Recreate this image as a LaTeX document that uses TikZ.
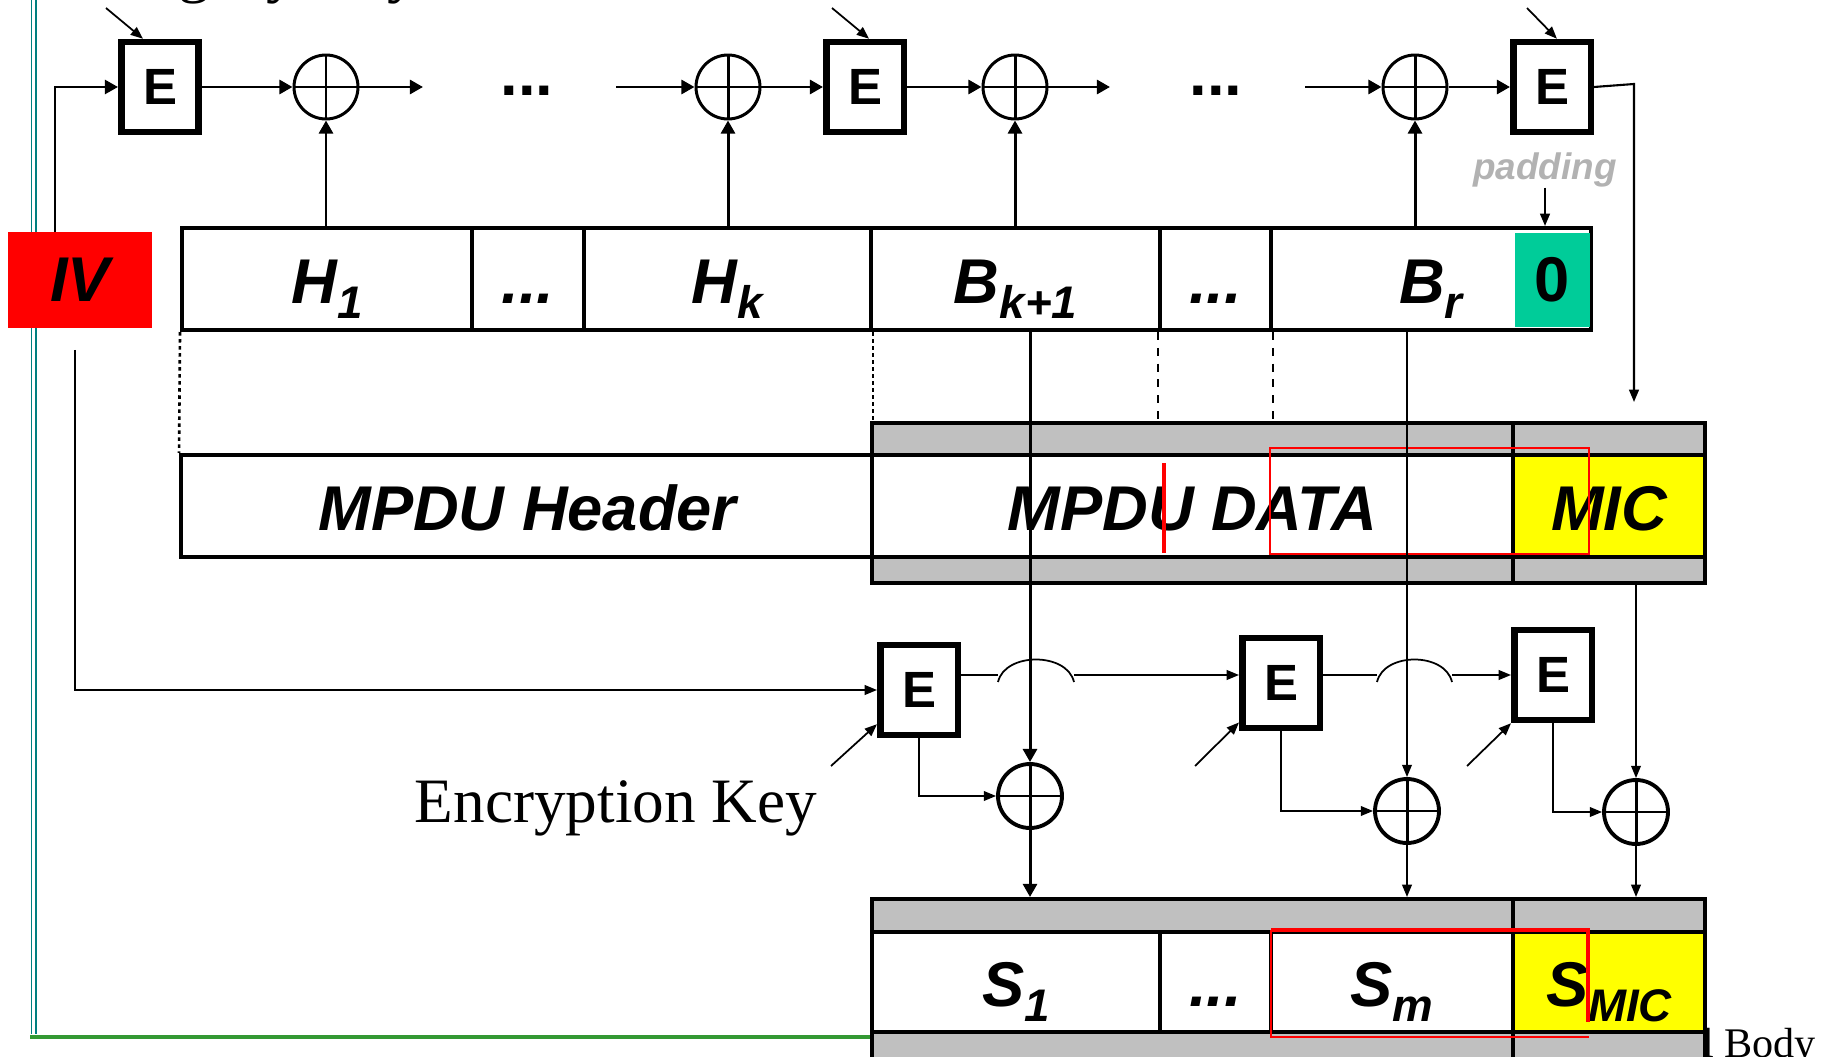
\documentclass[tikz,border=0pt]{standalone}
\usepackage{fontspec}
\setmainfont{Liberation Sans}
\newfontfamily\keyfont{Liberation Serif}
\usetikzlibrary{arrows.meta}
\definecolor{ivred}{RGB}{255,0,0}
\definecolor{padgreen}{RGB}{0,204,153}
\definecolor{micyellow}{RGB}{255,255,0}
\definecolor{bandgray}{RGB}{192,192,192}
\definecolor{padtext}{RGB}{178,178,178}
\definecolor{tealline}{RGB}{0,128,128}
\definecolor{greenline}{RGB}{51,153,51}
\newcommand{\lbl}{\fontsize{36}{40}\selectfont\bfseries\itshape}
\newcommand{\subl}[1]{\raisebox{-8.5pt}{\fontsize{26}{28}\selectfont #1}}
\tikzset{
  ebox/.style={rectangle, draw, line width=3.7pt, fill=white, minimum width=1.55cm,
               minimum height=1.8cm, inner sep=0pt, font=\fontsize{29}{32}\selectfont\bfseries},
  xorc/.style={circle, draw, line width=1.7pt, minimum size=1.28cm, inner sep=0pt, fill=white,
               path picture={\draw[line width=1.7pt]
                 (path picture bounding box.north) -- (path picture bounding box.south)
                 (path picture bounding box.west) -- (path picture bounding box.east);}},
  xorl/.style={xorc, line width=2.2pt},
  cell/.style={rectangle, draw, line width=2.3pt, inner sep=0pt, minimum height=2.04cm,
               text height=30pt, text depth=2.6pt, font=\lbl},
  grayband/.style={rectangle, draw, line width=2.3pt, fill=bandgray, inner sep=0pt},
  dots/.style={inner sep=0pt, font=\fontsize{36}{40}\selectfont\bfseries},
  ar/.style={-{Triangle[length=7.5pt,width=8pt]}, line width=1.7pt},
  thinar/.style={-{Triangle[length=7pt,width=5.5pt]}, line width=1pt},
  chain/.style={line width=1pt},
}
\begin{document}
\begin{tikzpicture}[x=0.02cm, y=-0.02cm]
  \useasboundingbox (0,0) rectangle (1836,1057);
  % frame lines at the left and bottom
  \draw[tealline, line width=0.9pt] (31.5,0) -- (31.5,1034) (36,0) -- (36,1034);
  \draw[greenline, line width=2.8pt] (30,1037) -- (872,1037);
  \node[anchor=base west, inner sep=0pt, font=\keyfont\fontsize{36}{40}\selectfont] (intkey) at (80,-9) {Integrity Key};
  \node[anchor=base west, inner sep=0pt, font=\keyfont\fontsize{24}{28}\selectfont] (body) at (1702,1057) {l Body};

  % IV and top chain
  \node[rectangle, fill=ivred, minimum width=2.88cm, minimum height=1.92cm, inner sep=0pt, font=\lbl] (iv) at (80,280) {IV};
  \node[ebox] (E1) at (160,87) {E};
  \node[xorc] (x1) at (326,87) {};
  \node[dots] (dots1) at (527,91) {...};
  \node[xorc] (x2) at (728,87) {};
  \node[ebox] (E2) at (865,87) {E};
  \node[xorc] (x3) at (1015,87) {};
  \node[dots] (dots2) at (1216,91) {...};
  \node[xorc] (x4) at (1415,87) {};
  \node[ebox] (E3) at (1552,87) {E};
  \node[inner sep=0pt, text=padtext, font=\fontsize{21}{24}\selectfont\bfseries\itshape] (pad) at (1545,170) {padding};

  % plaintext blocks
  \node[cell, minimum width=5.8cm] (h1) at (327,279) {H\subl{1}};
  \node[cell, minimum width=2.24cm] (hd) at (528,279) {...};
  \node[cell, minimum width=5.74cm] (hk) at (727.5,279) {H\subl{k}};
  \node[cell, minimum width=5.78cm] (bk) at (1015.5,279) {B\subl{k+1}};
  \node[cell, minimum width=2.22cm] (bd) at (1215.5,279) {...};
  \node[cell, minimum width=6.4cm] (br) at (1431,279) {B\subl{r}};
  \node[rectangle, fill=padgreen, minimum width=1.5cm, minimum height=1.88cm, inner sep=0pt,
        font=\fontsize{36}{40}\selectfont\bfseries] (zero) at (1552,280) {0};

  % MPDU
  \node[cell, minimum width=13.86cm] (hdr) at (527.5,506) {MPDU Header};
  \node[grayband, minimum width=12.82cm, minimum height=3.2cm] (datag) at (1192.5,503) {};
  \node[cell, fill=white, minimum width=12.82cm] (data) at (1192.5,506) {MPDU DATA};
  \node[grayband, minimum width=3.84cm, minimum height=3.2cm] (micg) at (1609,503) {};
  \node[cell, fill=micyellow, minimum width=3.84cm] (mic) at (1609,506) {MIC};

  % lower chain
  \node[ebox] (Ea) at (919,690) {E};
  \node[ebox] (Eb) at (1281,683) {E};
  \node[ebox] (Ec) at (1553,675) {E};
  \node[xorl] (xa) at (1030,796) {};
  \node[xorl] (xb) at (1407,811) {};
  \node[xorl] (xc) at (1636,812) {};
  \node[anchor=base, inner sep=0pt, font=\keyfont\fontsize{36}{40}\selectfont] (enckey) at (616,822) {Encryption Key};

  % ciphertext blocks
  \node[grayband, minimum width=12.82cm, minimum height=3.52cm] (og1) at (1192.5,987) {};
  \node[grayband, minimum width=3.84cm, minimum height=3.52cm] (og2) at (1609,987) {};
  \node[cell, fill=white, minimum width=5.76cm, minimum height=2cm] (s1) at (1016,982) {S\subl{1}};
  \node[cell, fill=white, minimum width=2.22cm, minimum height=2cm] (sd) at (1215.5,982) {...};
  \node[cell, fill=white, minimum width=4.84cm, minimum height=2cm] (sm) at (1392,982) {S\subl{m}};
  \node[cell, fill=micyellow, minimum width=3.84cm, minimum height=2cm] (smic) at (1609,982) {S\subl{MIC}};

  \coordinate (ivup) at (55,232);
  \coordinate (ivdn) at (75,350);
  \coordinate (d1e) at (423,87);
  \coordinate (d1s) at (616,87);
  \coordinate (d2e) at (1110,87);
  \coordinate (d2s) at (1305,87);
  \coordinate (e3bend) at (1634,84);
  \coordinate (micin) at (1634,402);
  \coordinate (k1) at (106,8);
  \coordinate (k2) at (832,8);
  \coordinate (k3) at (1527,8);
  \coordinate (ka) at (831,766);
  \coordinate (kb) at (1195,766);
  \coordinate (kc) at (1467,766);

  % top chain connectors
  \draw[ar, line width=1.5pt] (ivup) |- (E1.west);
  \draw[ar] (E1) -- (x1);
  \draw[ar] (x1) -- (d1e);
  \draw[ar] (d1s) -- (x2);
  \draw[ar] (x2) -- (E2);
  \draw[ar] (E2) -- (x3);
  \draw[ar] (x3) -- (d2e);
  \draw[ar] (d2s) -- (x4);
  \draw[ar] (x4) -- (E3);
  \draw[thinar, line width=1.2pt] (E3.east) -- (e3bend) -- (micin);
  \draw[thinar] (k1) -- ([xshift=-9.7pt]E1.north);
  \draw[thinar] (k2) -- ([xshift=2.3pt]E2.north);
  \draw[thinar] (k3) -- ([xshift=2.8pt]E3.north);
  \draw[ar] (x1.south |- h1.north) -- (x1.south);
  \draw[ar] (x2.south |- hk.north) -- (x2.south);
  \draw[ar] (x3.south |- bk.north) -- (x3.south);
  \draw[ar] (x4.south |- br.north) -- (x4.south);
  \draw[thinar, line width=1.2pt] (pad.south) -- (pad.south |- br.north);

  % guide lines between the rows
  \draw[line width=1.5pt, dash pattern=on 2pt off 2pt] (h1.south west) -- (hdr.north west);
  \draw[line width=1.5pt, dash pattern=on 2pt off 2pt] (hk.south east) -- (hk.south east |- datag.north);
  \draw[line width=0.8pt, dash pattern=on 4.5pt off 4.5pt] (bd.south west) -- (bd.south west |- datag.north);
  \draw[line width=0.8pt, dash pattern=on 4.5pt off 4.5pt] (bd.south east) -- (bd.south east |- datag.north);

  % marks
  \draw[red, line width=2.3pt] (1164,463) -- (1164,553);
  \draw[red, line width=1.6pt] (1270,448) rectangle (1589,554);

  % lower chain connectors
  \draw[thinar] (ivdn) |- (Ea.west);
  \draw[chain] (Ea.east |- Ec) -- (998,675);
  \draw[chain] (998,682) .. controls (1005,652) and (1067,652) .. (1074,682);
  \draw[thinar] (1074,675) -- (Eb.west |- Ec);
  \draw[chain] (Eb.east |- Ec) -- (1377,675);
  \draw[chain] (1377,682) .. controls (1384,652) and (1445,652) .. (1452,682);
  \draw[thinar] (1452,675) -- (Ec.west);
  \draw[thinar] (ka) -- ([yshift=8pt]Ea.south west);
  \draw[thinar] (kb) -- ([yshift=5pt]Eb.south west);
  \draw[thinar] (kc) -- (Ec.south west);
  \draw[thinar] (Ea.south) |- (xa.west);
  \draw[thinar] (Eb.south) |- (xb.west);
  \draw[thinar] (Ec.south) |- (xc.west);
  \draw[ar] (xa.north |- bk.south) -- (xa.north);
  \draw[thinar] (xb.north |- br.south) -- (xb.north);
  \draw[thinar] (xc.north |- micg.south) -- (xc.north);
  \draw[ar] (xa.south) -- (xa.south |- og1.north);
  \draw[thinar] (xb.south) -- (xb.south |- og1.north);
  \draw[thinar] (xc.south) -- (xc.south |- og2.north);

  \draw[red, line width=2.3pt] (1271,930) -- (1588,930) -- (1588,1022);
  \draw[red, line width=1.2pt] (1271,930) -- (1271,1037) -- (1589,1037);
\end{tikzpicture}
\end{document}
